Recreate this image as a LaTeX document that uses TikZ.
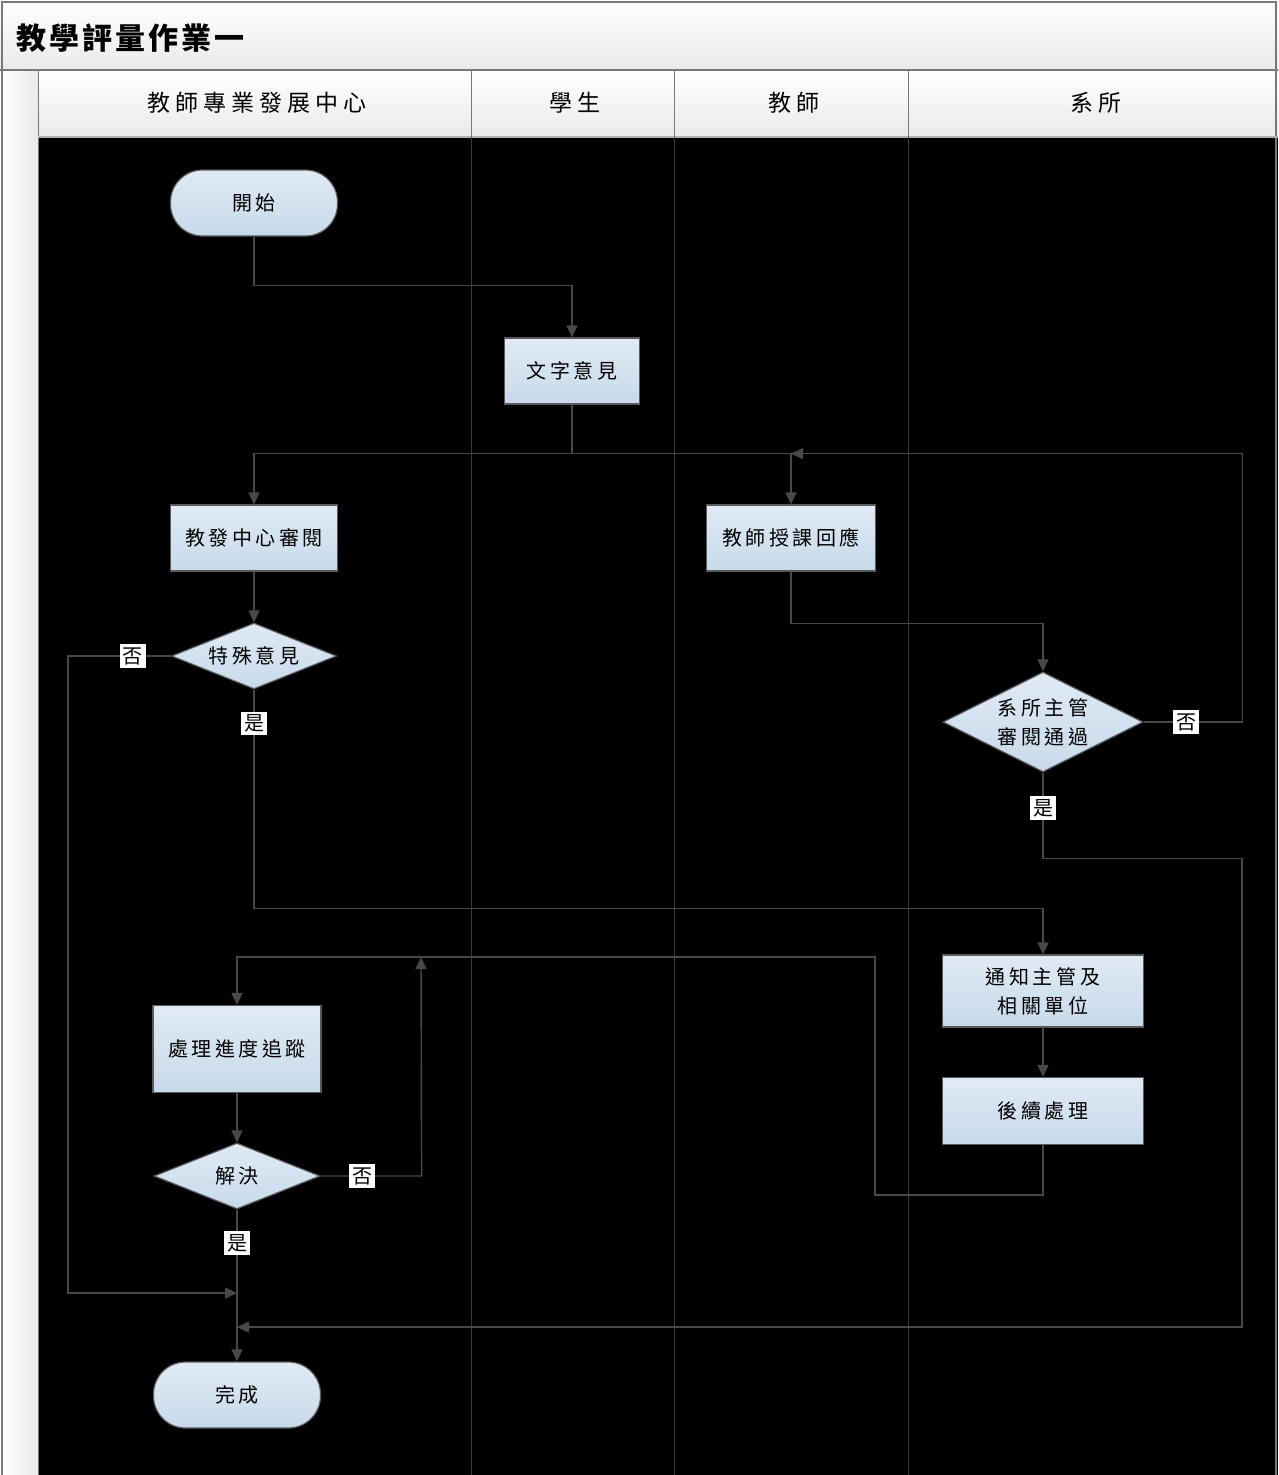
\documentclass[tikz,border=0pt]{standalone}
\usepackage{fontspec}
\newfontfamily\cjk[LetterSpace=18]{Noto Sans CJK TC}
\newfontfamily\cjkhead[LetterSpace=22]{Noto Sans CJK TC}
\newfontfamily\cjktitle[LetterSpace=10]{Noto Sans CJK TC}
\newfontfamily\cjkplain{Noto Sans CJK TC}
\usetikzlibrary{positioning, arrows.meta, shapes, calc}

\definecolor{boxtop}{RGB}{224,234,245}
\definecolor{boxbot}{RGB}{199,218,234}
\definecolor{edgegray}{RGB}{90,90,90}
\definecolor{linegray}{RGB}{72,72,72}
\definecolor{lanegray}{RGB}{58,58,58}
\definecolor{bandgray}{RGB}{234,234,234}
\definecolor{framegray}{RGB}{120,120,120}

\begin{document}
\begin{tikzpicture}[
    x=1pt, y=-1pt,
    box/.style={draw=edgegray, line width=1.2pt, top color=boxtop, bottom color=boxbot, font=\cjk\fontsize{20}{29}\selectfont, align=center, inner sep=0pt},
    proc/.style={box, rectangle, minimum width=168pt, minimum height=66pt},
    terminal/.style={box, rectangle, rounded corners=32pt, minimum width=167pt, minimum height=66pt},
    decision/.style={box, diamond, aspect=2, minimum width=166pt, minimum height=66pt},
    yesno/.style={fill=white, text=black, inner sep=3pt, font=\cjkplain\fontsize{20}{20}\selectfont},
    flow/.style={draw=linegray, line width=1.4pt, -{Triangle[length=12pt, width=11pt]}},
    lane/.style={draw=lanegray, line width=1pt},
    header/.style={font=\cjkhead\fontsize{23}{23}\selectfont}
]
\useasboundingbox (0,0) rectangle (1278,1475);

% Pool and lanes
\fill[top color=white, bottom color=bandgray] (0,0) rectangle (1278,70);
\fill[top color=white, bottom color=bandgray] (38,70) rectangle (1278,137);
\fill[left color=white, right color=bandgray] (0,70) rectangle (38,1475);
\fill[black] (38,137) rectangle (1278,1475);
\draw[framegray, line width=2pt] (2,1475) -- (2,2) -- (1276,2) -- (1276,1475);
\draw[framegray, line width=1.5pt] (0,70) -- (1278,70);
\draw[framegray, line width=1pt] (38,70) -- (38,1475);
\draw[gray!60, line width=1.5pt] (38,137) -- (1278,137);
\foreach \x in {471, 674, 908} {
    \draw[framegray, line width=1pt] (\x,70) -- (\x,137);
    \draw[lane] (\x,137) -- (\x,1475);
}

% Title
\node[anchor=west, font=\cjktitle\bfseries\fontsize{30}{30}\selectfont] (title) at (13,38) {教學評量作業一};

% Lane headers
\node[header] (laneCenter) at (257,103) {教師專業發展中心};
\node[header] (laneStudent) at (575,103) {學生};
\node[header] (laneTeacher) at (794,103) {教師};
\node[header] (laneDept) at (1096,103) {系所};

% Steps
\node[terminal] (start) at (254,203) {開始};
\node[proc, minimum width=135pt] (txt) at (572,371) {文字意見};
\node[proc, minimum width=167pt] (review) at (254,538) {教發中心審閱};
\node[proc, minimum width=169pt] (reply) at (791,538) {教師授課回應};
\node[decision, minimum width=165pt] (spec) at (254,656) {特殊意見};
\node[decision, minimum width=200pt, minimum height=100pt] (dept) at (1043,722) {系所主管\\審閱通過};
\node[proc, minimum width=201pt, minimum height=72pt] (notify) at (1043,991) {通知主管及\\相關單位};
\node[proc, minimum width=201pt, minimum height=67pt] (follow) at (1043,1111) {後續處理};
\node[proc, minimum width=168pt, minimum height=87pt] (track) at (237,1049) {處理進度追蹤};
\node[decision] (solve) at (237,1176) {解決};
\node[terminal] (done) at (237,1395) {完成};

% Junctions
\coordinate (joinA) at (237,1293);
\coordinate (joinB) at (237,1327);
\coordinate (loopR) at (875,957);
\coordinate (loopL) at (421,957);

% Connectors
\draw[flow] (start.south) -- ++(0,49) -| (txt.north);
\draw[flow] (txt.south) -- ++(0,49) coordinate (split) -| (review.north);
\draw[flow] (split) -| (reply.north);
\draw[flow] (review) -- (spec);
\draw[flow] (spec.west) -- node[yesno, pos=0.37] {否} ++(-103,0) |- (joinA);
\draw[flow] (spec.south) -- node[yesno, pos=0.155] {是} ++(0,219) -| (notify.north);
\draw[flow] (reply.south) -- ++(0,52) -| (dept.north);
\draw[flow] (dept.east) -- node[yesno, pos=0.43] {否} ++(99,0) |- (reply.north |- split);
\draw[flow] (dept.south) -- node[yesno, pos=0.41] {是} ++(0,86) -- ++(199,0) |- (joinB);
\draw[flow] (notify) -- (follow);
\draw[flow] (follow.south) -- ++(0,50) -| (loopR) -| (track.north);
\draw[flow] (track) -- (solve);
\draw[flow] (solve.east) -- node[yesno, pos=0.41] {否} ++(101,0) -- (loopL);
\draw[flow] (solve.south) -- node[yesno, pos=0.22] {是} (done.north);

\end{tikzpicture}
\end{document}
